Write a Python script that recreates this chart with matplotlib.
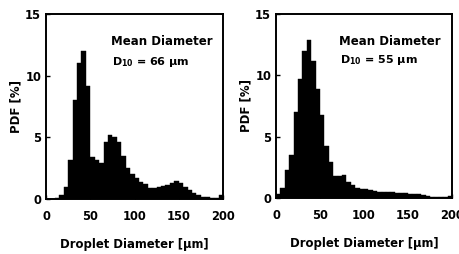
import matplotlib
matplotlib.use("Agg")
import matplotlib.pyplot as plt
import numpy as np

plt.rcParams['font.family'] = ['DejaVu Sans']
plt.rcParams['font.weight'] = 'bold'
plt.rcParams['mathtext.fontset'] = 'custom'
plt.rcParams['mathtext.rm'] = 'DejaVu Sans:bold'
plt.rcParams['mathtext.it'] = 'DejaVu Sans:bold'
plt.rcParams['mathtext.bf'] = 'DejaVu Sans:bold'

# bin left edges (µm), 5 µm wide
bin_edges = list(range(0, 200, 5))
bin_width = 5

pdf_left = [0.0, 0.0, 0.05, 0.3, 1.0, 3.2, 8.0, 11.0, 12.0, 9.2,
            3.4, 3.2, 2.9, 4.6, 5.2, 5.0, 4.6, 3.5, 2.5, 2.0,
            1.7, 1.4, 1.2, 0.9, 0.9, 1.0, 1.05, 1.15, 1.3, 1.45,
            1.3, 1.0, 0.7, 0.45, 0.3, 0.2, 0.15, 0.1, 0.1, 0.3]

pdf_right = [0.3, 0.8, 2.3, 3.5, 7.0, 9.7, 12.0, 12.9, 11.2, 8.9,
             6.8, 4.2, 2.9, 1.8, 1.8, 1.9, 1.3, 1.1, 0.8, 0.75,
             0.7, 0.65, 0.6, 0.5, 0.5, 0.45, 0.45, 0.4, 0.4, 0.4,
             0.35, 0.35, 0.3, 0.25, 0.15, 0.1, 0.1, 0.1, 0.1, 0.2]

x_ticks = [0, 50, 100, 150, 200]
y_ticks = [0, 5, 10, 15]
annot_title = "Mean Diameter"
annot_left = r"D$_{10}$ = 66 µm"
annot_right = r"D$_{10}$ = 55 µm"
xlabel = "Droplet Diameter [µm]"
ylabel = "PDF [%]"

fig = plt.figure(figsize=(4.59, 2.54), dpi=100)
W, H = 459, 254
ax1 = fig.add_axes([46 / W, 1 - 199 / H, 177 / W, 185 / H])
ax2 = fig.add_axes([276 / W, 1 - 198 / H, 176 / W, 184 / H])

panels = [(ax1, pdf_left, annot_left, (0.367, 0.849), (0.373, 0.74)),
          (ax2, pdf_right, annot_right, (0.358, 0.848), (0.364, 0.75))]

for ax, vals, ann, p1, p2 in panels:
    ax.bar(bin_edges, vals, width=bin_width, align='edge', color='black',
           edgecolor='black', linewidth=0.3)
    ax.set_xlim(0, 200)
    ax.set_ylim(0, 15)
    ax.set_xticks(x_ticks)
    ax.set_yticks(y_ticks)
    ax.set_xticklabels([str(t) for t in x_ticks], fontsize=8.3, fontweight='bold')
    ax.set_yticklabels([str(t) for t in y_ticks], fontsize=8.3, fontweight='bold')
    ax.tick_params(direction='in', length=3, width=1)
    ax.tick_params(axis='x', pad=8)
    ax.tick_params(axis='y', pad=3.5)
    for s in ax.spines.values():
        s.set_linewidth(1.4)
    ax.set_xlabel(xlabel, fontsize=8.4, fontweight='bold', labelpad=11)
    ax.set_ylabel(ylabel, fontsize=8.5, fontweight='bold', labelpad=2)
    ax.text(p1[0], p1[1], annot_title, transform=ax.transAxes, fontsize=8.5,
            fontweight='bold', ha='left', va='center')
    ax.text(p2[0], p2[1], ann, transform=ax.transAxes, fontsize=8.0,
            fontweight='bold', ha='left', va='center')

fig.savefig("out.png", dpi=100)
